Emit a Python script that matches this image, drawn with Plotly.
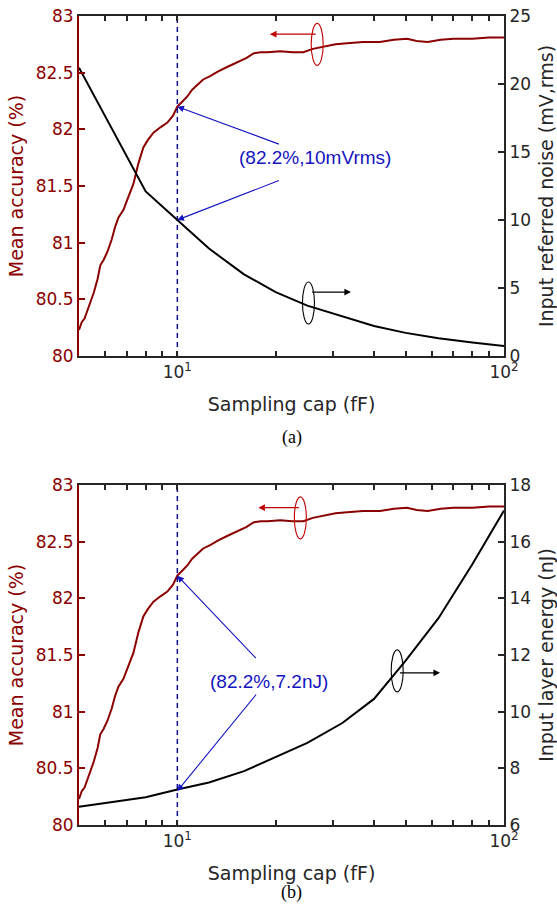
import math
import plotly.graph_objects as go

# ---------------- data ----------------
cap_acc = [5.0, 5.1, 5.2, 5.3, 5.42, 5.55, 5.7, 5.81, 5.95, 6.11, 6.3, 6.45, 6.6, 6.84,
           7.03, 7.2, 7.34, 7.6, 7.87, 8.1, 8.45, 8.9, 9.32, 9.7, 10.0, 10.4, 10.73,
           11.1, 11.5, 12.0, 12.6, 13.3, 14.2, 15.0, 15.6, 16.3, 17.1, 18.0, 18.9,
           20.65, 22.5, 24.3, 26.0, 28.0, 30.5, 33.1, 37.0, 41.7, 46.0, 50.5, 54.0,
           58.4, 64.0, 70.0, 80.0, 90.0, 100.0]
accuracy = [80.23, 80.30, 80.33, 80.40, 80.47, 80.56, 80.68, 80.80, 80.85, 80.92, 81.03,
            81.14, 81.22, 81.29, 81.38, 81.45, 81.52, 81.70, 81.84, 81.90, 81.97, 82.02,
            82.06, 82.12, 82.20, 82.25, 82.29, 82.35, 82.39, 82.44, 82.47, 82.51, 82.55,
            82.58, 82.60, 82.63, 82.67, 82.68, 82.68, 82.69, 82.68, 82.68, 82.71, 82.73,
            82.75, 82.76, 82.77, 82.77, 82.79, 82.80, 82.78, 82.77, 82.79, 82.80, 82.80,
            82.81, 82.81]

cap_pts = [5, 8, 10, 12.5, 16, 20, 25, 32, 40, 50, 63, 80, 100]
noise = [21.2, 12.1, 10.0, 7.9, 6.0, 4.7, 3.7, 2.9, 2.2, 1.7, 1.3, 1.0, 0.74]
energy = [6.64, 6.98, 7.25, 7.5, 7.9, 8.4, 8.9, 9.6, 10.45, 11.8, 13.3, 15.2, 17.1]

x_tickvals = [5, 6, 7, 8, 9, 10, 20, 30, 40, 50, 60, 70, 80, 90, 100]
x_ticktext = ["", "", "", "", "", "10<sup>1</sup>", "", "", "", "", "", "", "", "", "10<sup>2</sup>"]

sel_cap = 10
sel_acc = 82.2
sel_noise = 10.0
sel_energy = 7.2

# ---------------- style ----------------
W, H = 557, 921
DARKRED = "#8B0000"
LIGHTRED = "#C00000"
BLUE = "#1414C0"
DBLUE = "#10108C"
TXT = "#262626"
FONT = "DejaVu Sans"
XMIN, XMAX = 5, 100


def px_x(p):
    return p / W


def px_y(p):
    return 1 - p / H


xdom = [px_x(79), px_x(504)]
dom_top = [px_y(356), px_y(16)]
dom_bot = [px_y(825), px_y(485)]


def xpaper(v):
    f = (math.log10(v) - math.log10(XMIN)) / (math.log10(XMAX) - math.log10(XMIN))
    return xdom[0] + f * (xdom[1] - xdom[0])


fig = go.Figure()


def add_panel(xa, ya_left, ya_right, right_vals):
    fig.add_trace(go.Scatter(x=cap_pts, y=right_vals, mode="lines",
                             line=dict(color="black", width=2),
                             xaxis=xa, yaxis=ya_right, showlegend=False))
    fig.add_trace(go.Scatter(x=cap_acc, y=accuracy, mode="lines",
                             line=dict(color=DARKRED, width=2),
                             xaxis=xa, yaxis=ya_left, showlegend=False))
    fig.add_trace(go.Scatter(x=[sel_cap, sel_cap], y=[80, 83], mode="lines",
                             line=dict(color=DBLUE, width=1.5, dash="5px,4px"),
                             xaxis=xa, yaxis=ya_left, showlegend=False))


add_panel("x", "y", "y2", noise)
add_panel("x2", "y3", "y4", energy)

xaxis_common = dict(type="log", range=[math.log10(XMIN), math.log10(XMAX)],
                    tickvals=x_tickvals, ticktext=x_ticktext, ticks="inside", ticklen=5,
                    tickwidth=1.5, tickcolor=TXT, showline=True, linecolor=TXT, linewidth=2,
                    mirror="ticks", showgrid=False, zeroline=False, domain=xdom,
                    automargin=False,
                    tickfont=dict(family=FONT, size=17, color=TXT),
                    title=dict(text="Sampling cap (fF)",
                               font=dict(family=FONT, size=19, color=TXT), standoff=16))

yleft_common = dict(range=[80, 83], dtick=0.5, ticks="inside", ticklen=6, tickwidth=1.5,
                    tickcolor=DARKRED, showline=True, linecolor=DARKRED, linewidth=2,
                    showgrid=False, zeroline=False, automargin=False,
                    tickfont=dict(family=FONT, size=17, color=DARKRED),
                    title=dict(text="Mean accuracy (%)",
                               font=dict(family=FONT, size=19, color=DARKRED), standoff=7))

yright_common = dict(side="right", ticks="inside", ticklen=6, tickwidth=1.5,
                     tickcolor=TXT, showline=True, linecolor=TXT, linewidth=2,
                     showgrid=False, zeroline=False, automargin=False,
                     tickfont=dict(family=FONT, size=17, color=TXT))

fig.update_layout(
    width=W, height=H, margin=dict(l=0, r=0, t=0, b=0, autoexpand=False),
    paper_bgcolor="white", plot_bgcolor="white", showlegend=False,
    xaxis=dict(anchor="y", **xaxis_common),
    xaxis2=dict(anchor="y3", **xaxis_common),
    yaxis=dict(domain=dom_top, anchor="x", **yleft_common),
    yaxis2=dict(overlaying="y", anchor="x", range=[0, 25], dtick=5,
                title=dict(text="Input referred noise (mV,rms)",
                           font=dict(family=FONT, size=19, color=TXT), standoff=12),
                **yright_common),
    yaxis3=dict(domain=dom_bot, anchor="x2", **yleft_common),
    yaxis4=dict(overlaying="y3", anchor="x2", range=[6, 18], dtick=2,
                title=dict(text="Input layer energy (nJ)",
                           font=dict(family=FONT, size=19, color=TXT), standoff=12),
                **yright_common),
)

L = math.log10
ann = []
# value labels
ann.append(dict(text="(82.2%,10mVrms)", x=L(26.4), y=81.75, xref="x", yref="y",
                showarrow=False, font=dict(family="Liberation Sans", size=19, color=BLUE)))
ann.append(dict(text="(82.2%,7.2nJ)", x=L(19.1), y=81.27, xref="x2", yref="y3",
                showarrow=False, font=dict(family="Liberation Sans", size=19, color=BLUE)))
# blue arrows (pixel offsets to tail)
for xr, yr, yv, axo, ayo in [("x", "y", sel_acc, 103, 38), ("x", "y2", sel_noise, 103, -40),
                             ("x2", "y3", sel_acc, 80, 84), ("x2", "y4", sel_energy, 80, -98)]:
    ann.append(dict(text="", x=L(sel_cap), y=yv, xref=xr, yref=yr, showarrow=True,
                    ax=axo, ay=ayo, arrowhead=2, arrowsize=1.2, arrowwidth=1.1,
                    arrowcolor=BLUE, standoff=0))
# legend-like arrows
ann.append(dict(text="", x=L(19.2), y=82.84, xref="x", yref="y", ax=L(26.8), ay=82.84,
                axref="x", ayref="y", showarrow=True, arrowhead=2, arrowsize=1.2,
                arrowwidth=1.1, arrowcolor=LIGHTRED))
ann.append(dict(text="", x=L(34.0), y=4.7, xref="x", yref="y2", ax=L(25.6), ay=4.7,
                axref="x", ayref="y2", showarrow=True, arrowhead=2, arrowsize=1.2,
                arrowwidth=1.1, arrowcolor="black"))
ann.append(dict(text="", x=L(17.7), y=82.80, xref="x2", yref="y3", ax=L(23.8), ay=82.80,
                axref="x2", ayref="y3", showarrow=True, arrowhead=2, arrowsize=1.2,
                arrowwidth=1.1, arrowcolor=LIGHTRED))
ann.append(dict(text="", x=L(63.7), y=11.37, xref="x2", yref="y4", ax=L(47.5), ay=11.37,
                axref="x2", ayref="y4", showarrow=True, arrowhead=2, arrowsize=1.2,
                arrowwidth=1.1, arrowcolor="black"))
# captions
ann.append(dict(text="(a)", x=0.5 * (xdom[0] + xdom[1]), y=px_y(437), xref="paper", yref="paper",
                showarrow=False, font=dict(family="Liberation Serif", size=18, color="black")))
ann.append(dict(text="(b)", x=0.5 * (xdom[0] + xdom[1]), y=px_y(905), xref="paper", yref="paper",
                showarrow=False, font=dict(family="Liberation Serif", size=18, color="black")))
fig.update_layout(annotations=ann)

shapes = []
for yr, xc, yc, col in [("y", 26.8, 82.75, LIGHTRED), ("y2", 25.2, 3.9, "black"),
                        ("y3", 23.8, 82.71, LIGHTRED), ("y4", 47.1, 11.44, "black")]:
    shapes.append(dict(type="circle", xref="paper", yref=yr, xsizemode="pixel",
                       ysizemode="pixel", xanchor=xpaper(xc), yanchor=yc,
                       x0=-6, x1=6, y0=-21, y1=21,
                       line=dict(color=col, width=1.1)))
fig.update_layout(shapes=shapes)

fig.write_html("out.html", config={"displayModeBar": False},
               post_script="document.body.style.margin='0';document.body.style.overflow='hidden';")
